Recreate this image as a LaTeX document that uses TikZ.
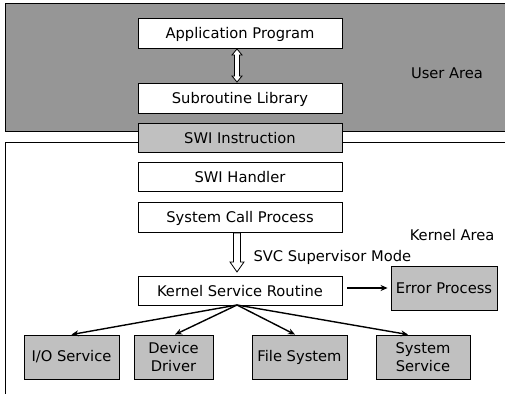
\documentclass[tikz,border=0pt]{standalone}
\usepackage{fontspec}
\setmainfont{DejaVu Sans}
\usetikzlibrary{arrows.meta}
\definecolor{usergray}{RGB}{150,150,150}
\definecolor{boxgray}{RGB}{192,192,192}
\begin{document}
\begin{tikzpicture}[x=1pt,y=-1pt,
  lbl/.style={font=\fontsize{14.7}{16}\selectfont},
  wbox/.style={draw=black,line width=0.9pt,fill=white,minimum width=204pt,minimum height=30pt,inner sep=0pt,text depth=0pt,font=\fontsize{14.7}{16}\selectfont},
  gbox/.style={draw=black,line width=0.9pt,fill=boxgray,minimum height=44pt,inner sep=0pt,align=center,font=\fontsize{14.7}{17.5}\selectfont},
  conn/.style={line width=1.4pt,-{Stealth[length=7pt,width=6pt]}},
  hollow/.style={draw=black,line width=0.8pt,fill=white}]
\useasboundingbox (0,0) rectangle (505,393);
\fill[white] (0,0) rectangle (505,393);
\begin{scope}
\clip (0,0) rectangle (505,393);
\draw[line width=0.9pt,fill=usergray] (5,3) rectangle (515,131);
\draw[line width=0.9pt] (515,142) -- (5,142) -- (5,400);
\end{scope}
\node[lbl] (user) at (447,73) {User Area};
\node[lbl,anchor=east] (kern) at (498,235) {Kernel Area};
\node[wbox] (app) at (240,33) {Application Program};
\node[wbox] (sub) at (240,98) {Subroutine Library};
\node[wbox,fill=boxgray,minimum height=29pt] (swi) at (240,137.5) {SWI Instruction};
\node[wbox,minimum height=29pt] (hand) at (240,177) {SWI Handler};
\node[wbox] (sys) at (240,217) {System Call Process};
\node[wbox,minimum height=29pt] (ksr) at (240,290.5) {Kernel Service Routine};
\node[gbox,minimum width=106pt] (err) at (444,288) {Error Process};
\node[gbox,minimum width=95pt] (io) at (71.5,357) {I/O Service};
\node[gbox,minimum width=79pt] (dev) at (173.5,357) {Device\\Driver};
\node[gbox,minimum width=95pt] (fs) at (299.5,357) {File System};
\node[gbox,minimum width=94pt] (ss) at (423,357) {System\\Service};
% hollow double arrow
\draw[hollow] (237,49) -- (242,55) -- (239.5,55) -- (239.5,76) -- (242,76) -- (237,82) -- (232,76) -- (234.5,76) -- (234.5,55) -- (232,55) -- cycle;
% hollow down arrow
\draw[hollow] (233.5,233) -- (240.5,233) -- (240.5,262) -- (244,262) -- (237,272) -- (230,262) -- (233.5,262) -- cycle;
\node[lbl,anchor=west] (svc) at (250,257) {SVC Supervisor Mode};
% connectors
\coordinate (k) at (237,305);
\draw[conn] (k) -- (io.north);
\draw[conn] (k) -- ([xshift=1.5pt]dev.north);
\draw[conn] (k) -- ([xshift=-4.5pt]fs.north);
\draw[conn] (k) -- ([xshift=-15pt]ss.north);
\draw[conn,shorten <=5pt,shorten >=3pt] (ksr.east |- err.west) -- (err.west);
\end{tikzpicture}
\end{document}
